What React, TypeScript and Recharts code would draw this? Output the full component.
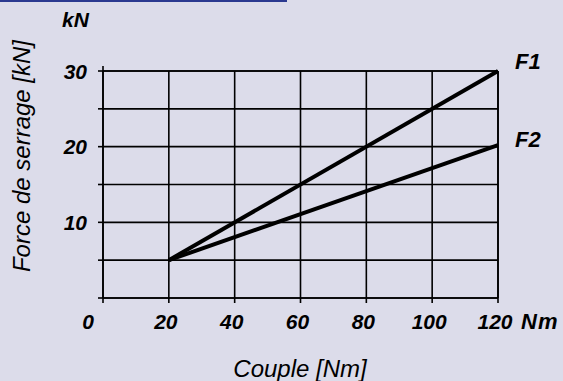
import React from 'react';
import { LineChart, Line, XAxis, YAxis, CartesianGrid, Label } from 'recharts';

const couple = [20, 120];
const f1 = [5, 30];
const f2 = [5, 20.2];
const xTicks = [0, 20, 40, 60, 80, 100, 120];
const yTicks = [0, 5, 10, 15, 20, 25, 30];
const yLabelled = [10, 20, 30];

const data = couple.map((c, i) => ({ c, f1: f1[i], f2: f2[i] }));

const FONT = '"Liberation Sans", Arial, Helvetica, sans-serif';
const BG = '#DCDCEA';

const XTick = (props: any) => {
  const { x, y, payload } = props;
  const v = payload.value;
  const dx = v === 0 ? -15 : -3;
  return (
    <text x={x + dx} y={y + 24} textAnchor="middle" fontFamily={FONT} fontStyle="italic" fontWeight="bold" fontSize={21} fill="#000">
      {v}
    </text>
  );
};

const YTick = (props: any) => {
  const { x, y, payload } = props;
  const v = payload.value;
  if (!yLabelled.includes(v)) return <g />;
  return (
    <text x={x - 9} y={y + 7.5} textAnchor="end" fontFamily={FONT} fontStyle="italic" fontWeight="bold" fontSize={21} fill="#000">
      {v}
    </text>
  );
};

const Empty = () => <g />;

const endLabel = (name: string, dy: number) => (props: any) => {
  const { x, y, index } = props;
  if (index !== couple.length - 1) return null;
  return (
    <text x={x + 17} y={y + dy} textAnchor="start" fontFamily={FONT} fontStyle="italic" fontWeight="bold" fontSize={22} fill="#000">
      {name}
    </text>
  );
};

export default function App() {
  return (
    <div style={{ position: 'absolute', left: 0, top: 0, width: 563, height: 381, background: BG, overflow: 'hidden' }}>
      <div style={{ position: 'absolute', left: 0, top: 0, width: 287, height: 2, background: '#2B3990' }} />
      <LineChart width={563} height={381} data={data} margin={{ top: 66, right: 60, bottom: 53, left: 43 }}>
        <CartesianGrid stroke="#000" strokeWidth={1.6} />
        <XAxis
          dataKey="c"
          type="number"
          domain={[0, 120]}
          ticks={xTicks}
          height={30}
          tickSize={5}
          axisLine={{ stroke: '#000', strokeWidth: 1.6 }}
          tickLine={{ stroke: '#000', strokeWidth: 1.6 }}
          tick={<XTick />}
          interval={0}
        >
          <Label
            content={() => (
              <g>
                <text x={300} y={377} textAnchor="middle" fontFamily={FONT} fontStyle="italic" fontSize={24} fill="#000">
                  Couple [Nm]
                </text>
                <text x={521} y={329} textAnchor="start" fontFamily={FONT} fontStyle="italic" fontWeight="bold" fontSize={22} letterSpacing={1} fill="#000">
                  Nm
                </text>
              </g>
            )}
          />
        </XAxis>
        <XAxis
          xAxisId="top"
          orientation="top"
          type="number"
          domain={[0, 120]}
          ticks={xTicks}
          height={5}
          tickSize={5}
          axisLine={{ stroke: '#000', strokeWidth: 1.6 }}
          tickLine={{ stroke: '#000', strokeWidth: 1.6 }}
          tick={<Empty />}
          interval={0}
        />
        <YAxis
          type="number"
          domain={[0, 30]}
          ticks={yTicks}
          width={60}
          tickSize={5}
          axisLine={{ stroke: '#000', strokeWidth: 1.6 }}
          tickLine={{ stroke: '#000', strokeWidth: 1.6 }}
          tick={<YTick />}
          interval={0}
        >
          <Label
            content={() => (
              <g>
                <text transform="translate(30,156) rotate(-90)" textAnchor="middle" fontFamily={FONT} fontStyle="italic" fontSize={24} fill="#000">
                  Force de serrage [kN]
                </text>
                <text x={62} y={27} textAnchor="start" fontFamily={FONT} fontStyle="italic" fontWeight="bold" fontSize={21} fill="#000">
                  kN
                </text>
              </g>
            )}
          />
        </YAxis>
        <YAxis
          yAxisId="right"
          orientation="right"
          type="number"
          domain={[0, 30]}
          ticks={yTicks}
          width={5}
          tickSize={5}
          axisLine={{ stroke: '#000', strokeWidth: 1.6 }}
          tickLine={{ stroke: '#000', strokeWidth: 1.6 }}
          tick={<Empty />}
          interval={0}
        />
        <Line dataKey="f1" type="linear" stroke="#000" strokeWidth={4} dot={false} isAnimationActive={false} label={endLabel('F1', -2)} />
        <Line dataKey="f2" type="linear" stroke="#000" strokeWidth={4} dot={false} isAnimationActive={false} label={endLabel('F2', 2)} />
      </LineChart>
    </div>
  );
}
